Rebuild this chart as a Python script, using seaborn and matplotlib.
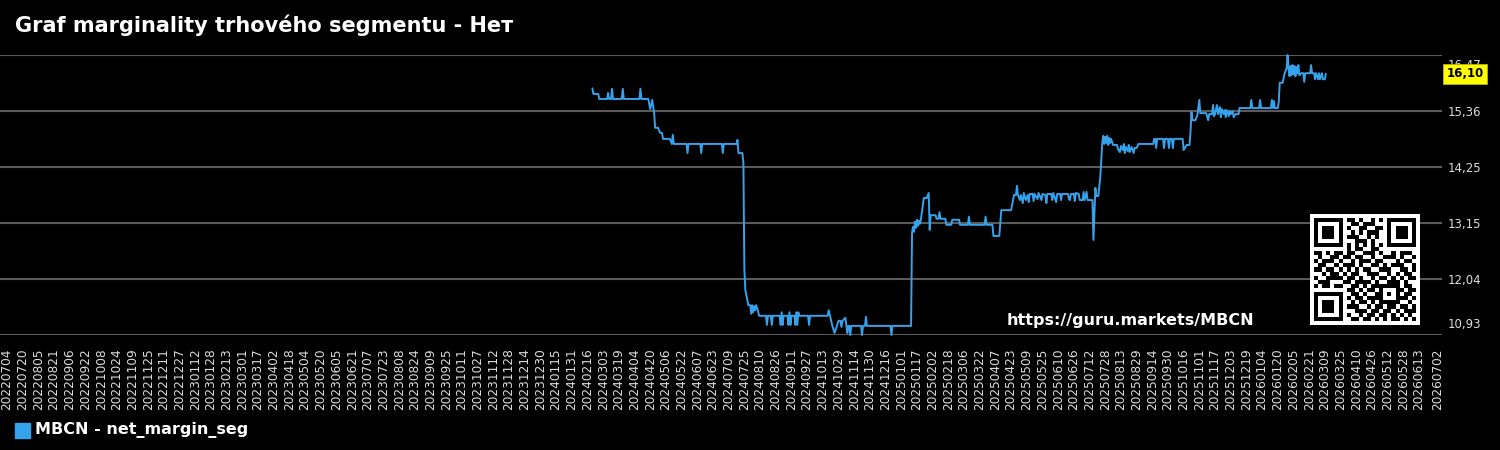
import numpy as np
import pandas as pd
import matplotlib
matplotlib.use("Agg")
import matplotlib.pyplot as plt
import matplotlib.transforms as mtransforms
from matplotlib.patches import Rectangle
import seaborn as sns

title = "Graf marginality trhového segmentu - Нет"
series_label = "MBCN - net_margin_seg"
watermark = "https://guru.markets/MBCN"

# net margin of the segment
dates = [
    "2024-02-21", "2024-02-22", "2024-02-27", "2024-02-28", "2024-03-07", "2024-03-08", "2024-03-09", "2024-03-11",
    "2024-03-12", "2024-03-13", "2024-03-22", "2024-03-23", "2024-03-24", "2024-04-09", "2024-04-10", "2024-04-11",
    "2024-04-18", "2024-04-20", "2024-04-22", "2024-04-24", "2024-04-25", "2024-04-28", "2024-04-30", "2024-05-02",
    "2024-05-03", "2024-05-10", "2024-05-12", "2024-05-13", "2024-05-14", "2024-05-27", "2024-05-28", "2024-05-29",
    "2024-06-10", "2024-06-11", "2024-06-12", "2024-07-02", "2024-07-03", "2024-07-04", "2024-07-17", "2024-07-18",
    "2024-07-19", "2024-07-23", "2024-07-24", "2024-07-25", "2024-07-26", "2024-07-28", "2024-07-29", "2024-07-31",
    "2024-08-01", "2024-08-02", "2024-08-03", "2024-08-04", "2024-08-05", "2024-08-06", "2024-08-08", "2024-08-09",
    "2024-08-16", "2024-08-17", "2024-08-18", "2024-08-21", "2024-08-22", "2024-08-23", "2024-08-30", "2024-08-31",
    "2024-09-01", "2024-09-02", "2024-09-03", "2024-09-07", "2024-09-08", "2024-09-09", "2024-09-10", "2024-09-11",
    "2024-09-14", "2024-09-15", "2024-09-16", "2024-09-17", "2024-09-18", "2024-09-19", "2024-09-28", "2024-09-29",
    "2024-09-30", "2024-10-18", "2024-10-19", "2024-10-23", "2024-10-25", "2024-10-27", "2024-10-29", "2024-10-31",
    "2024-11-01", "2024-11-02", "2024-11-05", "2024-11-07", "2024-11-08", "2024-11-09", "2024-11-10", "2024-11-11",
    "2024-11-21", "2024-11-22", "2024-11-23", "2024-11-25", "2024-11-26", "2024-11-27", "2024-12-21", "2024-12-22",
    "2024-12-23", "2025-01-11", "2025-01-12", "2025-01-13", "2025-01-14", "2025-01-15", "2025-01-16", "2025-01-17",
    "2025-01-18", "2025-01-19", "2025-01-20", "2025-01-21", "2025-01-24", "2025-01-27", "2025-01-29", "2025-01-30",
    "2025-01-31", "2025-02-05", "2025-02-06", "2025-02-08", "2025-02-09", "2025-02-10", "2025-02-15", "2025-02-16",
    "2025-02-21", "2025-02-22", "2025-03-01", "2025-03-02", "2025-03-10", "2025-03-11", "2025-03-12", "2025-03-27",
    "2025-03-28", "2025-03-29", "2025-04-04", "2025-04-05", "2025-04-11", "2025-04-13", "2025-04-23", "2025-04-26",
    "2025-04-28", "2025-04-29", "2025-04-30", "2025-05-02", "2025-05-03", "2025-05-05", "2025-05-06", "2025-05-08",
    "2025-05-10", "2025-05-11", "2025-05-12", "2025-05-15", "2025-05-16", "2025-05-17", "2025-05-20", "2025-05-21",
    "2025-05-24", "2025-05-25", "2025-05-28", "2025-05-29", "2025-05-30", "2025-06-03", "2025-06-04", "2025-06-05",
    "2025-06-08", "2025-06-09", "2025-06-12", "2025-06-13", "2025-06-14", "2025-06-20", "2025-06-21", "2025-06-22",
    "2025-06-23", "2025-06-26", "2025-06-27", "2025-06-28", "2025-07-01", "2025-07-02", "2025-07-05", "2025-07-06",
    "2025-07-07", "2025-07-09", "2025-07-10", "2025-07-15", "2025-07-16", "2025-07-18", "2025-07-19", "2025-07-21",
    "2025-07-23", "2025-07-25", "2025-07-26", "2025-07-27", "2025-07-28", "2025-07-29", "2025-07-30", "2025-07-31",
    "2025-08-01", "2025-08-02", "2025-08-03", "2025-08-05", "2025-08-09", "2025-08-10", "2025-08-12", "2025-08-13",
    "2025-08-15", "2025-08-16", "2025-08-17", "2025-08-18", "2025-08-20", "2025-08-21", "2025-08-22", "2025-08-24",
    "2025-08-26", "2025-08-27", "2025-08-29", "2025-08-31", "2025-09-15", "2025-09-16", "2025-09-17", "2025-09-18",
    "2025-09-19", "2025-09-25", "2025-09-26", "2025-09-27", "2025-09-30", "2025-10-01", "2025-10-02", "2025-10-04",
    "2025-10-05", "2025-10-06", "2025-10-15", "2025-10-16", "2025-10-19", "2025-10-22", "2025-10-23", "2025-10-24",
    "2025-10-25", "2025-10-28", "2025-10-30", "2025-11-01", "2025-11-02", "2025-11-08", "2025-11-10", "2025-11-11",
    "2025-11-14", "2025-11-15", "2025-11-16", "2025-11-17", "2025-11-19", "2025-11-20", "2025-11-22", "2025-11-23",
    "2025-11-24", "2025-11-26", "2025-11-27", "2025-11-28", "2025-11-29", "2025-12-01", "2025-12-02", "2025-12-03",
    "2025-12-05", "2025-12-06", "2025-12-08", "2025-12-11", "2025-12-12", "2025-12-23", "2025-12-24", "2025-12-25",
    "2026-01-01", "2026-01-02", "2026-01-03", "2026-01-13", "2026-01-14", "2026-01-15", "2026-01-16", "2026-01-17",
    "2026-01-20", "2026-01-21", "2026-01-22", "2026-01-25", "2026-01-27", "2026-01-29", "2026-01-30", "2026-01-31",
    "2026-02-01", "2026-02-02", "2026-02-03", "2026-02-04", "2026-02-05", "2026-02-06", "2026-02-07", "2026-02-08",
    "2026-02-09", "2026-02-10", "2026-02-11", "2026-02-13", "2026-02-15", "2026-02-16", "2026-02-17", "2026-02-22",
    "2026-02-23", "2026-02-24", "2026-02-26", "2026-02-27", "2026-02-28", "2026-03-02", "2026-03-03", "2026-03-04",
    "2026-03-06", "2026-03-07", "2026-03-09", "2026-03-10",
]
values = [
    15.81, 15.70, 15.70, 15.60, 15.60, 15.72, 15.60, 15.60,
    15.80, 15.60, 15.60, 15.80, 15.60, 15.60, 15.80, 15.60,
    15.60, 15.40, 15.58, 15.32, 15.03, 15.03, 14.93, 14.93,
    14.81, 14.81, 14.71, 14.89, 14.71, 14.71, 14.53, 14.71,
    14.71, 14.53, 14.71, 14.71, 14.53, 14.71, 14.71, 14.79,
    14.53, 14.53, 14.33, 12.22, 11.82, 11.62, 11.52, 11.52,
    11.35, 11.52, 11.38, 11.50, 11.42, 11.52, 11.40, 11.31,
    11.31, 11.13, 11.31, 11.31, 11.13, 11.31, 11.31, 11.13,
    11.38, 11.13, 11.31, 11.31, 11.13, 11.38, 11.13, 11.31,
    11.31, 11.13, 11.38, 11.13, 11.38, 11.31, 11.31, 11.13,
    11.31, 11.31, 11.42, 11.09, 10.97, 11.09, 11.21, 11.21,
    11.09, 11.21, 11.27, 10.97, 11.11, 11.11, 10.93, 11.11,
    11.11, 10.93, 11.11, 11.11, 11.29, 11.11, 11.11, 10.93,
    11.11, 11.11, 12.95, 13.07, 12.97, 13.17, 13.05, 13.21,
    13.09, 13.19, 13.13, 13.21, 13.64, 13.64, 13.74, 13.01,
    13.30, 13.30, 13.23, 13.23, 13.36, 13.23, 13.23, 13.11,
    13.11, 13.21, 13.21, 13.11, 13.11, 13.27, 13.11, 13.11,
    13.27, 13.11, 13.11, 12.89, 12.89, 13.40, 13.40, 13.70,
    13.70, 13.88, 13.70, 13.60, 13.70, 13.54, 13.74, 13.60,
    13.70, 13.56, 13.72, 13.72, 13.58, 13.72, 13.62, 13.74,
    13.60, 13.72, 13.70, 13.54, 13.72, 13.72, 13.60, 13.74,
    13.56, 13.72, 13.72, 13.60, 13.72, 13.72, 13.62, 13.60,
    13.72, 13.72, 13.58, 13.74, 13.72, 13.60, 13.60, 13.76,
    13.60, 13.76, 13.60, 13.60, 12.81, 13.84, 13.68, 13.68,
    14.06, 14.73, 14.87, 14.71, 14.85, 14.73, 14.87, 14.69,
    14.83, 14.73, 14.81, 14.69, 14.69, 14.61, 14.55, 14.67,
    14.59, 14.71, 14.53, 14.65, 14.57, 14.69, 14.55, 14.65,
    14.53, 14.63, 14.63, 14.71, 14.71, 14.81, 14.81, 14.63,
    14.81, 14.81, 14.63, 14.81, 14.81, 14.63, 14.81, 14.81,
    14.63, 14.81, 14.81, 14.59, 14.69, 14.69, 14.95, 15.34,
    15.18, 15.18, 15.28, 15.58, 15.32, 15.32, 15.18, 15.30,
    15.30, 15.48, 15.26, 15.30, 15.48, 15.30, 15.44, 15.24,
    15.40, 15.30, 15.38, 15.24, 15.38, 15.26, 15.36, 15.30,
    15.36, 15.24, 15.30, 15.30, 15.42, 15.42, 15.58, 15.42,
    15.42, 15.58, 15.42, 15.42, 15.58, 15.42, 15.56, 15.42,
    15.42, 15.54, 15.92, 15.92, 16.11, 16.20, 16.47, 16.21,
    16.05, 16.25, 16.07, 16.27, 16.09, 16.25, 16.05, 16.23,
    16.11, 16.27, 16.07, 16.11, 16.11, 15.94, 16.11, 16.11,
    16.27, 16.11, 16.11, 15.99, 16.11, 15.99, 16.11, 15.99,
    16.11, 15.99, 15.99, 16.10,
]

tick_start = "2022-07-04"
tick_end = "2026-06-13"
tick_last = "2026-07-02"
y_min, y_max = 10.93, 16.47

# decorative QR block in the corner
qr_rows = [
    "1111111" "0" "110100101" "0" "1111111",
    "1000001" "0" "011011100" "0" "1000001",
    "1011101" "0" "100110011" "0" "1011101",
    "1011101" "0" "010101110" "0" "1011101",
    "1011101" "0" "111001010" "0" "1011101",
    "1000001" "0" "001110100" "0" "1000001",
    "1111111" "0" "101010101" "0" "1111111",
    "00000000" "101100110" "00000000",
    "110101" "1" "011001110100101110",
    "010011" "0" "110110010011101001",
    "101110" "1" "001011101100010110",
    "011001" "0" "111010011010111001",
    "110110" "1" "010101100111001101",
    "001011" "0" "101100111001010110",
    "100111" "1" "011010010110101011",
    "011100" "0" "110111101001110100",
    "101101" "1" "001101011" "11111" "0110",
    "00000000" "11010110" "10001" "1011",
    "1111111" "0" "01101001" "10101" "0110",
    "1000001" "0" "10110111" "10001" "1101",
    "1011101" "0" "01011010" "11111" "0010",
    "1011101" "0" "11100101" "10110" "1101",
    "1011101" "0" "00111011" "01101" "0111",
    "1000001" "0" "10010110" "11010" "1010",
    "1111111" "0" "01101101" "01011" "0101",
]

line_color = "#36A2EB"
grid_color = "#5a5a5a"
tick_color = "#dddddd"

sns.set_theme(style="dark", rc={
    "figure.facecolor": "black",
    "axes.facecolor": "black",
    "savefig.facecolor": "black",
})
plt.rcParams["font.family"] = ["DejaVu Sans"]

W, H = 1500, 450
fig = plt.figure(figsize=(15, 4.5), dpi=100)
ax = fig.add_axes([0, 1 - 335 / H, 1442 / W, 280 / H])

df = pd.DataFrame({"date": pd.to_datetime(dates), "value": values})
sns.lineplot(data=df, x="date", y="value", ax=ax, color=line_color,
             linewidth=1.4, estimator=None, legend=False)
for ln in ax.lines:
    ln.set_clip_on(False)

ax.set_xlim(pd.Timestamp("2022-06-26 20:00"), pd.Timestamp("2026-07-06 12:00"))
ax.set_ylim(y_min, y_max)
ax.set_xlabel("")
ax.set_ylabel("")
for s in ax.spines.values():
    s.set_visible(False)

# x ticks every 16 days like the source chart
xticks = list(pd.date_range(tick_start, tick_end, freq="16D")) + [pd.Timestamp(tick_last)]
ax.set_xticks(xticks)
ax.set_xticklabels([t.strftime("%Y%m%d") for t in xticks], rotation=90,
                   fontsize=8.7, color=tick_color)
ax.tick_params(axis="x", length=0, pad=9.5)

yticks = np.linspace(y_min, y_max, 6)
ax.yaxis.tick_right()
ax.set_yticks(yticks)
ax.set_yticklabels([f"{v:.2f}".replace(".", ",") for v in yticks],
                   fontsize=8.5, color=tick_color)
ax.tick_params(axis="y", length=0, pad=4)
ylabels = ax.get_yticklabels()
ylabels[0].set_va("bottom")
ylabels[0].set_transform(ylabels[0].get_transform() +
                         mtransforms.ScaledTranslation(0, 4 / 100, fig.dpi_scale_trans))
ylabels[-1].set_va("top")
ylabels[-1].set_transform(ylabels[-1].get_transform() +
                          mtransforms.ScaledTranslation(0, -4 / 100, fig.dpi_scale_trans))

ax.grid(False)
ax.yaxis.grid(True, color=grid_color, linewidth=1.5)

# last value badge
badge_tr = mtransforms.blended_transform_factory(fig.transFigure, ax.transData)
ax.text(1465 / W, values[-1], f"{values[-1]:.2f}".replace(".", ","),
        transform=badge_tr, ha="center", va="center", fontsize=8.5,
        fontweight="bold", color="black", zorder=10, clip_on=False,
        bbox=dict(boxstyle="square,pad=0.3", fc="#FFFF00", ec="#b5b500", lw=0.6))

fig.text(15 / W, 1 - 25 / H, title, fontsize=15, fontweight="bold",
         color="white", ha="left", va="center")
fig.text(1007 / W, 1 - 320 / H, watermark, fontsize=11.5, fontweight="bold",
         color="white", ha="left", va="center")

# legend
fig.patches.append(Rectangle((15 / W, 1 - 438 / H), 15 / W, 15 / H,
                             transform=fig.transFigure, color=line_color))
fig.text(35 / W, 1 - 430 / H, series_label, fontsize=11.5, fontweight="bold",
         color="white", ha="left", va="center")

qr = np.array([[int(c) for c in row] for row in qr_rows])
qr = np.pad(qr, 1, constant_values=0)
ax_qr = fig.add_axes([1310 / W, 1 - 325 / H, 110 / W, 111 / H])
ax_qr.imshow(qr, cmap="gray_r", interpolation="nearest", aspect="auto")
ax_qr.axis("off")

fig.savefig("out.png", dpi=100)
